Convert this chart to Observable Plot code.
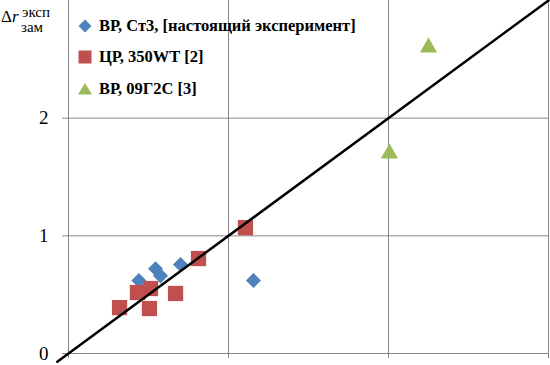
<!DOCTYPE html>
<html>
<head>
<meta charset="utf-8">
<script src="https://cdn.jsdelivr.net/npm/d3@7"></script>
<script src="https://cdn.jsdelivr.net/npm/@observablehq/plot@0.6"></script>
<style>
  html, body { margin: 0; padding: 0; background: #fff; }
  #wrap { position: relative; width: 550px; height: 365px; font-family: "Times New Roman", "Liberation Serif", serif; }
  #ylab { position: absolute; left: 0; top: 0; width: 60px; height: 36px; color: #000; white-space: nowrap; }
  #ylab span { position: absolute; line-height: 1; }
  #ylab .main { left: 1px; top: 8px; font-size: 17px; }
  #ylab .sup { left: 22px; top: 4.5px; font-size: 15px; }
  #ylab .sub { left: 21px; top: 20px; font-size: 15px; }
  #legend { position: absolute; left: 74px; top: 10px; font-weight: bold; font-size: 16.5px; }
  #legend .row { height: 31.5px; display: flex; align-items: center; white-space: nowrap; }
  #legend svg { width: 22px; height: 18px; margin-right: 3px; }
</style>
</head>
<body>
<div id="wrap">
  <div id="chart"></div>
  <div id="ylab"><span class="main">Δ<i>r</i></span><span class="sup">эксп</span><span class="sub">зам</span></div>
  <div id="legend"></div>
</div>
<script>
// Series: ВР, Ст3, [настоящий эксперимент]
const blueX = [0.44, 0.544, 0.575, 0.70, 1.156];
const blueY = [0.62, 0.72, 0.66, 0.756, 0.62];
// Series: ЦР, 350WT [2]
const redX = [0.8125, 1.106, 0.431, 0.5125, 0.669, 0.319, 0.506];
const redY = [0.807, 1.07, 0.518, 0.552, 0.51, 0.39, 0.382];
// Series: ВР, 09Г2С [3]
const greenX = [2.25, 2.006];
const greenY = [2.60, 1.70];
// Line y = x
const lineX = [-0.07, 3];
// Ticks
const yTicks = [0, 1, 2];
const xGrid = [1, 2, 3];
const yGrid = [1, 2];
const xTicks = [0, 1, 2, 3];
const seriesNames = ["ВР, Ст3, [настоящий эксперимент]", "ЦР, 350WT [2]", "ВР, 09Г2С [3]"];

const BLUE = "#4F81BD", RED = "#C0504D", GREEN = "#9BBB59", GRID = "#868686";
const FONT = "'Times New Roman', 'Liberation Serif', serif";

const blue = blueX.map((x, i) => ({x, y: blueY[i]}));
const red = redX.map((x, i) => ({x, y: redY[i]}));
const green = greenX.map((x, i) => ({x, y: greenY[i]}));
const line = lineX.map(x => ({x, y: x}));

const chart = Plot.plot({
  width: 550,
  height: 365,
  marginLeft: 68,
  marginRight: 2,
  marginTop: 0,
  marginBottom: 12,
  style: {fontFamily: FONT, background: "#fff"},
  x: {domain: [0, 3]},
  y: {domain: [0, 3]},
  marks: [
    Plot.ruleX(xGrid, {stroke: GRID, strokeWidth: 1}),
    Plot.ruleY(yGrid, {stroke: GRID, strokeWidth: 1}),
    Plot.ruleX([0], {stroke: GRID, strokeWidth: 1}),
    Plot.ruleY([0], {stroke: GRID, strokeWidth: 1}),
    Plot.axisY({ticks: yTicks, tickSize: 6, tickPadding: 14, fontSize: 19, fontFamily: FONT, stroke: GRID, color: "#000", label: null, tickFormat: d => String(d)}),
    Plot.axisX({ticks: xTicks, tickSize: 5, tickPadding: 0, stroke: GRID, label: null, tickFormat: () => ""}),
    Plot.dot(blue, {x: "x", y: "y", symbol: "diamond2", r: 6.8, fill: BLUE, stroke: "none"}),
    Plot.dot(red, {x: "x", y: "y", symbol: "square", r: 8.6, fill: RED, stroke: "none"}),
    Plot.dot(green, {x: "x", y: "y", symbol: "triangle", r: 6.4, fill: GREEN, stroke: "none"}),
    Plot.line(line, {x: "x", y: "y", stroke: "#000", strokeWidth: 2.5, clip: false})
  ]
});
document.getElementById("chart").appendChild(chart);

const markers = [
  `<svg viewBox="-11 -9 22 18"><path d="M0,-6.5L6.5,0L0,6.5L-6.5,0Z" fill="${BLUE}"/></svg>`,
  `<svg viewBox="-11 -9 22 18"><rect x="-6.5" y="-6.5" width="13" height="13" fill="${RED}"/></svg>`,
  `<svg viewBox="-11 -9 22 18"><path d="M0,-6L7,5.5L-7,5.5Z" fill="${GREEN}"/></svg>`
];
const leg = document.getElementById("legend");
seriesNames.forEach((name, i) => {
  const row = document.createElement("div");
  row.className = "row";
  row.innerHTML = markers[i] + `<span>${name}</span>`;
  leg.appendChild(row);
});
</script>
</body>
</html>
